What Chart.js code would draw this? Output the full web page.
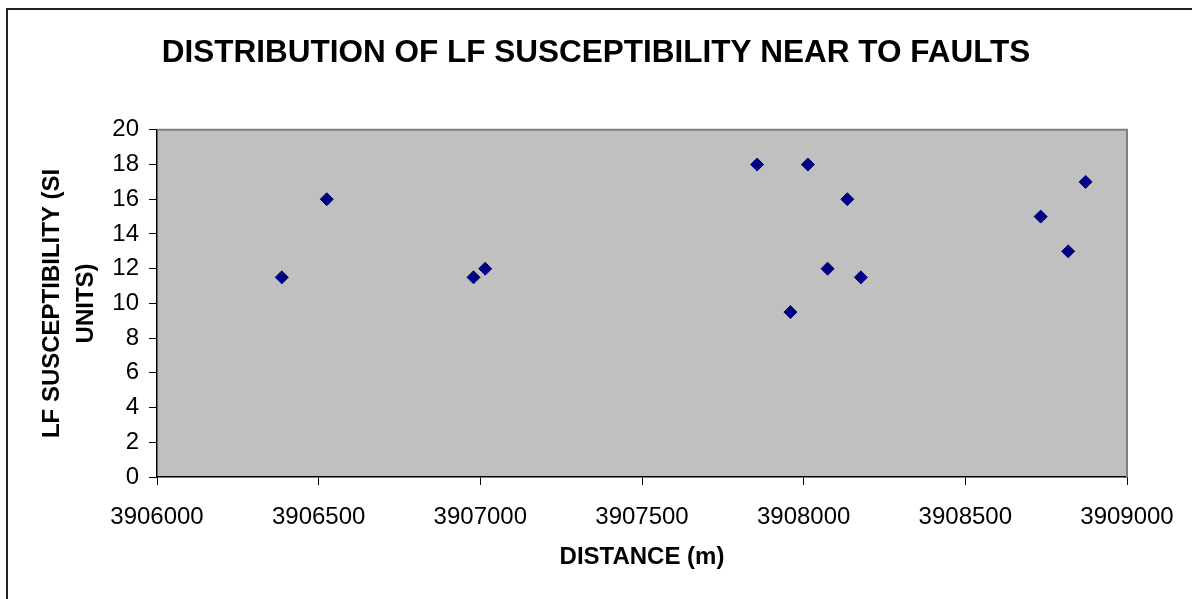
<!DOCTYPE html>
<html>
<head>
<meta charset="utf-8">
<title>LF susceptibility near faults</title>
<script src="https://cdn.jsdelivr.net/npm/chart.js@4/dist/chart.umd.min.js"></script>
<style>
  body { margin: 0; background: #fff; }
  canvas { display: block; }
</style>
</head>
<body>
<canvas id="faultChart" width="1192" height="599"></canvas>
<script>
// Data
const distance = [3906386, 3906525, 3906979, 3907015, 3907856, 3907959, 3908013,
                  3908074, 3908135, 3908177, 3908733, 3908818, 3908872];
const susceptibility = [11.5, 16, 11.5, 12, 18, 9.5, 18, 12, 16, 11.5, 15, 13, 17];
const xTicks = [3906000, 3906500, 3907000, 3907500, 3908000, 3908500, 3909000];
const yTicks = [0, 2, 4, 6, 8, 10, 12, 14, 16, 18, 20];

const FONT = "Arial, 'Liberation Sans', sans-serif";

// Grey plot area, grey top/right edge and the outer frame
const framePlugin = {
  id: 'frame',
  beforeDraw(chart) {
    const { ctx, chartArea: a } = chart;
    ctx.save();
    ctx.fillStyle = '#c0c0c0';
    ctx.fillRect(a.left, a.top, a.right - a.left, a.bottom - a.top);
    ctx.restore();
  },
  afterDraw(chart) {
    const { ctx, chartArea: a } = chart;
    ctx.save();
    ctx.strokeStyle = '#808080';
    ctx.lineWidth = 2;
    ctx.beginPath();
    ctx.moveTo(a.left, a.top);
    ctx.lineTo(a.right, a.top);
    ctx.lineTo(a.right, a.bottom);
    ctx.stroke();
    // outer border of the picture
    ctx.strokeStyle = '#222';
    ctx.lineWidth = 2;
    ctx.beginPath();
    ctx.moveTo(7, 599);
    ctx.lineTo(7, 9);
    ctx.lineTo(1192, 9);
    ctx.stroke();
    ctx.restore();
  }
};

const ctx = document.getElementById('faultChart').getContext('2d');
new Chart(ctx, {
  type: 'scatter',
  data: {
    datasets: [{
      label: 'LF susceptibility',
      data: distance.map((d, i) => ({ x: d, y: susceptibility[i] })),
      pointStyle: 'rectRot',
      pointRadius: 6.5,
      pointHoverRadius: 6.5,
      backgroundColor: '#000080',
      borderColor: '#000080',
      borderWidth: 1,
    }],
  },
  options: {
    responsive: false,
    animation: false,
    layout: { padding: 0 },
    plugins: {
      legend: { display: false },
      tooltip: { enabled: false },
      title: {
        display: true,
        text: 'DISTRIBUTION OF LF SUSCEPTIBILITY NEAR TO FAULTS',
        color: '#000',
        font: { family: FONT, size: 31.5, weight: 'bold', lineHeight: 1.2 },
        padding: { top: 34, bottom: 58 },
      },
    },
    scales: {
      x: {
        type: 'linear',
        min: xTicks[0],
        max: xTicks[xTicks.length - 1],
        afterBuildTicks: s => { s.ticks = xTicks.map(v => ({ value: v })); },
        afterFit: s => { s.height = 122; },
        grid: { drawOnChartArea: false, drawTicks: true, tickLength: 8, color: '#000', lineWidth: 1 },
        border: { display: true, color: '#000', width: 1.5 },
        ticks: {
          color: '#000',
          padding: 18,
          maxRotation: 0,
          font: { family: FONT, size: 24 },
          callback: v => String(v),
        },
        title: {
          display: true,
          text: 'DISTANCE (m)',
          color: '#000',
          font: { family: FONT, size: 24, weight: 'bold', lineHeight: 1.2 },
          padding: { top: 0, bottom: 27 },
        },
      },
      y: {
        type: 'linear',
        min: yTicks[0],
        max: yTicks[yTicks.length - 1],
        afterBuildTicks: s => { s.ticks = yTicks.map(v => ({ value: v })); },
        afterFit: s => { s.width = 157; },
        grid: { drawOnChartArea: false, drawTicks: true, tickLength: 8, color: '#000', lineWidth: 1 },
        border: { display: true, color: '#000', width: 1.5 },
        ticks: {
          color: '#000',
          padding: 10,
          font: { family: FONT, size: 24 },
          callback: v => String(v),
        },
        title: {
          display: true,
          text: ['LF SUSCEPTIBILITY (SI', 'UNITS)'],
          color: '#000',
          font: { family: FONT, size: 24, weight: 'bold', lineHeight: 1.4 },
          padding: { top: 36, bottom: 0 },
        },
      },
      // empty right-hand strip so the title stays centred on the page
      yRight: {
        type: 'linear',
        position: 'right',
        display: true,
        min: 0,
        max: 20,
        afterFit: s => { s.width = 65; },
        grid: { display: false },
        border: { display: false },
        ticks: { display: false },
      },
    },
  },
  plugins: [framePlugin],
});
</script>
</body>
</html>
